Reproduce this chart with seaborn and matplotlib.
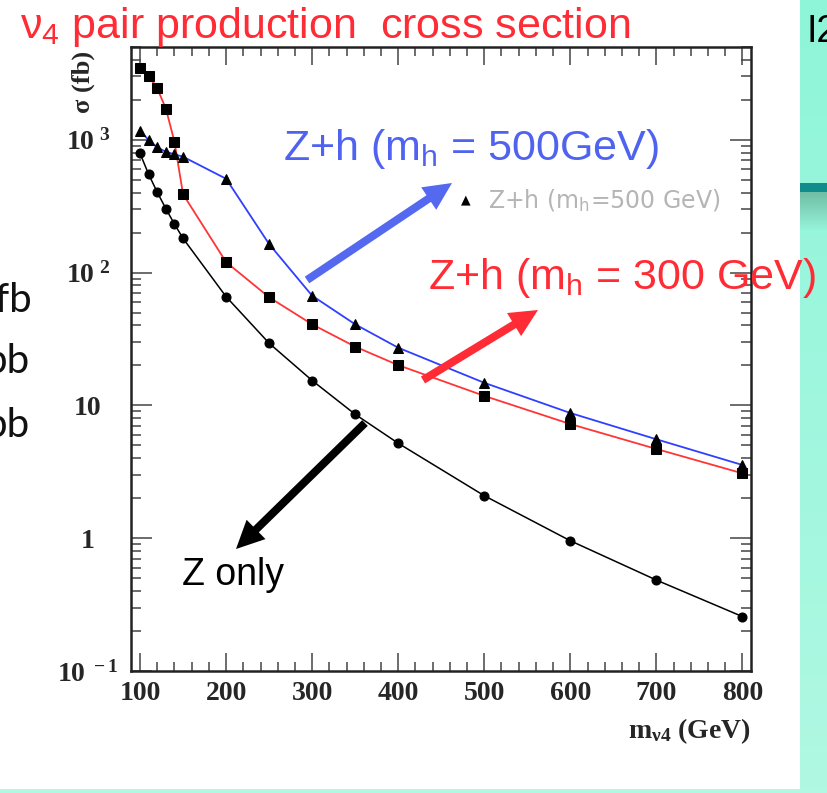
import numpy as np
import pandas as pd
import matplotlib
matplotlib.use("Agg")
import matplotlib.pyplot as plt
import matplotlib.ticker as mticker
import matplotlib.transforms as mtransforms
from matplotlib.patches import FancyArrow
import seaborn as sns

# neutrino mass (GeV) and pair-production cross sections (fb)
mass = [100, 110, 120, 130, 140, 150, 200, 250, 300, 350, 400, 500, 600, 700, 800]
sigma_z_only = [790, 550, 403, 303, 232, 181, 65.9, 29.4, 15.4, 8.57, 5.19, 2.09, 0.957, 0.484, 0.257]
sigma_zh_300 = [3500, 3040, 2440, 1720, 968, 389, 120, 65.2, 40.8, 27.7, 20.1, 11.8, 7.24, 4.70, 3.08]
sigma_zh_500 = [1170, 996, 878, 813, 778, 746, 509, 164, 67.0, 40.8, 27.2, 14.8, 8.77, 5.56, 3.56]

x_ticks = [100, 200, 300, 400, 500, 600, 700, 800]
x_tick_labels = ["100", "200", "300", "400", "500", "600", "700", "800"]
y_ticks = [0.1, 1, 10, 100, 1000]
y_tick_labels = [r"$\mathbf{10^{\ -1}}$", "1", "10", r"$\mathbf{10^{\ 2}}$", r"$\mathbf{10^{\ 3}}$"]

title_text = r"$\mathregular{\nu_4}$ pair production  cross section"
label_500 = r"Z+h (m$_\mathregular{h}$ = 500GeV)"
label_300 = r"Z+h (m$_\mathregular{h}$ = 300 GeV)"
label_z = "Z only"
legend_500 = r"Z+h (m$_\mathregular{h}$=500 GeV)"
side_words = ["fb", "pb", "pb"]

sns.set_style("ticks")
plt.rcParams["font.family"] = ["Liberation Sans", "DejaVu Sans"]
plt.rcParams["mathtext.fontset"] = "custom"
plt.rcParams["mathtext.rm"] = "Liberation Sans"
plt.rcParams["mathtext.it"] = "Liberation Sans:italic"
plt.rcParams["mathtext.bf"] = "Liberation Serif:bold"

W, H = 827, 793
fig = plt.figure(figsize=(W / 100, H / 100), dpi=100)
fig.patch.set_facecolor("white")

# slide background: mint side panel with a dark rule, mint strip at the bottom
bg = np.ones((H, W, 3))
mint_top = np.array([142, 245, 217]) / 255
mint_bot = np.array([176, 248, 226]) / 255
t = np.linspace(0, 1, H)[:, None]
panel = mint_top * (1 - t) + mint_bot * t
bg[:, 800:, :] = panel[:, None, :]
bg[183:192, 800:, :] = np.array([16, 140, 140]) / 255
fade = np.linspace(0, 1, 40)[:, None]
shade = np.array([112, 190, 165]) / 255
bg[192:232, 800:, :] = (shade * (1 - fade) + panel[192:232] * fade)[:, None, :]
bg[789:, :, :] = mint_bot
fig.figimage(bg, 0, 0, origin="upper", zorder=-5)

ax = fig.add_axes([131 / W, 122 / H, 620 / W, 624 / H])
ax.set_facecolor("white")

sns.lineplot(x=mass, y=sigma_zh_300, ax=ax, color="#FF3535", lw=1.3, sort=False,
             marker="s", markersize=7.5, markerfacecolor="black", markeredgecolor="black")
sns.lineplot(x=mass, y=sigma_zh_500, ax=ax, color="#2F3FFF", lw=1.3, sort=False,
             marker="^", markersize=7.5, markerfacecolor="black", markeredgecolor="black")
sns.lineplot(x=mass, y=sigma_z_only, ax=ax, color="black", lw=1.1, sort=False,
             marker="o", markersize=6.5, markerfacecolor="black", markeredgecolor="black")

ax.set_yscale("log")
ax.set_xlim(89.5, 810)
ax.set_ylim(0.1, 5000)

ax.set_xticks(x_ticks, x_tick_labels, fontsize=20, fontweight="bold", family="Liberation Serif")
ax.xaxis.set_minor_locator(mticker.MultipleLocator(20))
ax.set_yticks(y_ticks, y_tick_labels, fontsize=20, fontweight="bold", family="Liberation Serif",
              ha="center")
ax.yaxis.set_minor_locator(mticker.LogLocator(base=10, subs=np.arange(2, 10)))
ax.yaxis.set_minor_formatter(mticker.NullFormatter())

ax.tick_params(axis="both", which="both", direction="in", top=True, right=True,
               color="#444444", width=1.1)
ax.tick_params(axis="x", which="major", length=13, pad=7)
ax.tick_params(axis="x", which="minor", length=6.5)
ax.tick_params(axis="y", which="major", length=15, pad=31)
ax.tick_params(axis="y", which="minor", length=7.5)
for s in ax.spines.values():
    s.set_linewidth(1.8)
    s.set_color("#222222")

ax.set_xlabel(r"$\mathbf{m_{\nu 4}}$ (GeV)", fontsize=20, fontweight="bold",
              family="Liberation Serif", ha="right", va="top")
ax.xaxis.set_label_coords(1.0, -0.072)
ax.set_ylabel("σ (fb)", fontsize=19, fontweight="bold", family="Liberation Serif")
ax.yaxis.set_label_coords(-0.058, 0.944)


def fx(px):
    return px / W


def fy(py):
    return 1 - py / H


# title and labels
fig.text(fx(20), fy(38), title_text, color="#FF2B35", fontsize=31, va="baseline", ha="left")
fig.text(fx(283), fy(160), label_500, color="#4F63F0", fontsize=31, va="baseline", ha="left", zorder=10)
fig.text(fx(428), fy(289), label_300, color="#FF2B35", fontsize=31, va="baseline", ha="left", zorder=10)
fig.text(fx(182), fy(585), label_z, color="black", fontsize=27, va="baseline", ha="left", zorder=10)

# faded legend entry of the original plot
fig.text(fx(466), fy(200), "▲", color="black", fontsize=9, va="center", ha="center",
         family="DejaVu Sans")
fig.text(fx(488), fy(208), legend_500, color="#B5B5B5", fontsize=17, va="baseline", ha="left",
         family="DejaVu Sans")

# slide text cut at the edges
for word, px, py in zip(side_words, [-5, -16, -16], [312, 373, 437]):
    fig.text(fx(px), fy(py), word, color="#111111", fontsize=29, va="baseline", ha="left",
             family="Lato")
fig.text(fx(806), fy(42), "I2", color="black", fontsize=27, va="baseline", ha="left")

# arrows pointing at the curves (figure pixel units)
pix = mtransforms.IdentityTransform()


def arrow(x0, y0, x1, y1, color, width=8, head_w=27, head_l=28):
    a = FancyArrow(x0, H - y0, x1 - x0, -(y1 - y0), width=width, head_width=head_w,
                   head_length=head_l, length_includes_head=True, color=color,
                   transform=pix, zorder=9, lw=0)
    fig.add_artist(a)


arrow(307, 280, 452, 183, "#5468F0")
arrow(423, 380, 538, 310, "#FF2B35")
arrow(365, 423, 236, 549, "black")

fig.savefig("out.png", dpi=100)
